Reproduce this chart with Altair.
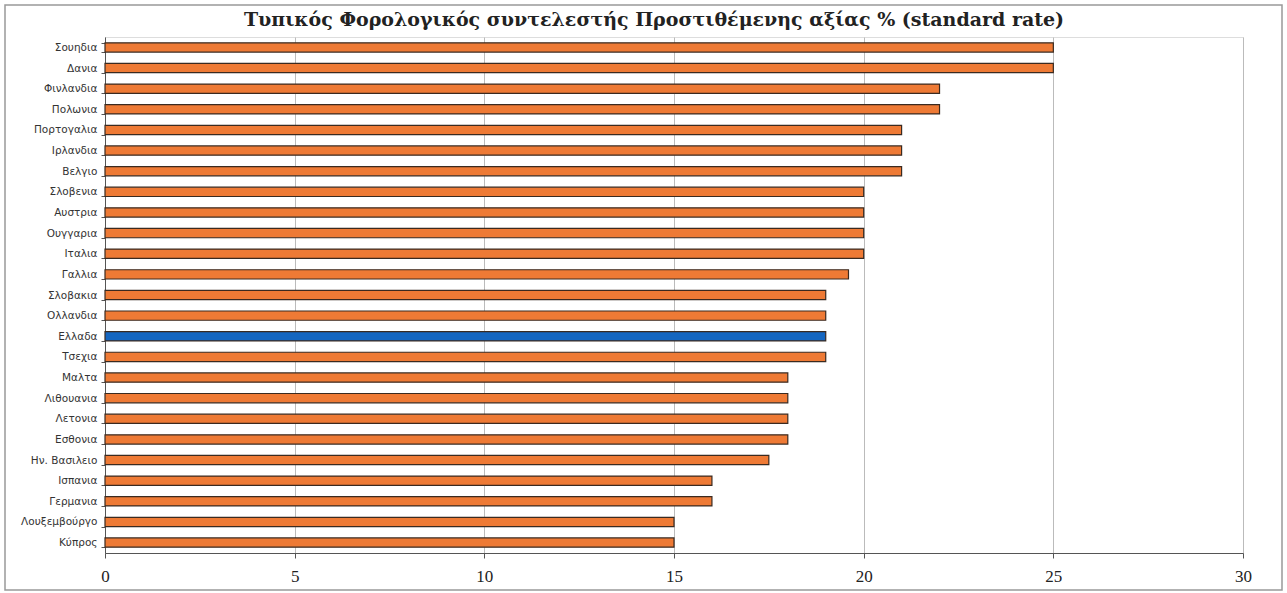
import altair as alt
import pandas as pd

countries = ["Σουηδια", "Δανια", "Φινλανδια", "Πολωνια", "Πορτογαλια", "Ιρλανδια",
             "Βελγιο", "Σλοβενια", "Αυστρια", "Ουγγαρια", "Ιταλια", "Γαλλια",
             "Σλοβακια", "Ολλανδια", "Ελλαδα", "Τσεχια", "Μαλτα", "Λιθουανια",
             "Λετονια", "Εσθονια", "Ην. Βασιλειο", "Ισπανια", "Γερμανια",
             "Λουξεμβούργο", "Κύπρος"]
rates = [25, 25, 22, 22, 21, 21, 21, 20, 20, 20, 20, 19.6, 19, 19, 19, 19,
         18, 18, 18, 18, 17.5, 16, 16, 15, 15]
highlight = "Ελλαδα"
title_text = ["Τυπικός Φορολογικός συντελεστής Προστιθέμενης αξίας % (standard rate)"]

df = pd.DataFrame({"country": countries, "rate": rates})
df["group"] = ["gr" if c == highlight else "other" for c in countries]

W, H = 1138, 516

bars = alt.Chart(df).mark_bar(stroke="#3a2a20", strokeWidth=1.2).encode(
    x=alt.X("rate:Q", scale=alt.Scale(domain=[0, 30], nice=False),
            axis=alt.Axis(values=[0, 5, 10, 15, 20, 25, 30], title=None,
                          labelFont="Liberation Serif", labelFontSize=17,
                          labelColor="#222", labelPadding=10, tickSize=5,
                          labelFlush=False,
                          tickColor="#555", domainColor="#555",
                          gridColor="#bbbbbb", grid=True)),
    y=alt.Y("country:N", sort=countries,
            scale=alt.Scale(paddingInner=0.55, paddingOuter=0.28),
            axis=alt.Axis(title=None, labelFont="DejaVu Sans", labelFontSize=10.5,
                          labelColor="#333", tickBand="extent", tickSize=4,
                          tickColor="#555", domainColor="#555", labelPadding=4,
                          grid=False)),
    color=alt.Color("group:N", scale=alt.Scale(domain=["other", "gr"],
                                               range=["#EE7A35", "#1566C0"]),
                    legend=None),
)

frame = alt.Chart(pd.DataFrame({"a": [0]})).mark_rect(
    fill=None, stroke="#999999", strokeWidth=1.5).encode(
    x=alt.value(-100), x2=alt.value(1177), y=alt.value(-32), y2=alt.value(553))

title = alt.Chart(pd.DataFrame({"t": title_text})).mark_text(
    font="DejaVu Serif", fontSize=19, fontWeight="bold", color="#222",
    align="center", baseline="middle").encode(
    text="t:N", x=alt.value(549), y=alt.value(-17))

chart = alt.layer(bars, frame, title).properties(
    width=W, height=H,
    autosize=alt.AutoSizeParams(type="none"),
    padding={"left": 105, "top": 37, "right": 44, "bottom": 40},
).configure_view(stroke="#aaaaaa", strokeWidth=1).configure(background="white")

chart.save("out.html", embed_options={"renderer": "svg", "actions": False})
